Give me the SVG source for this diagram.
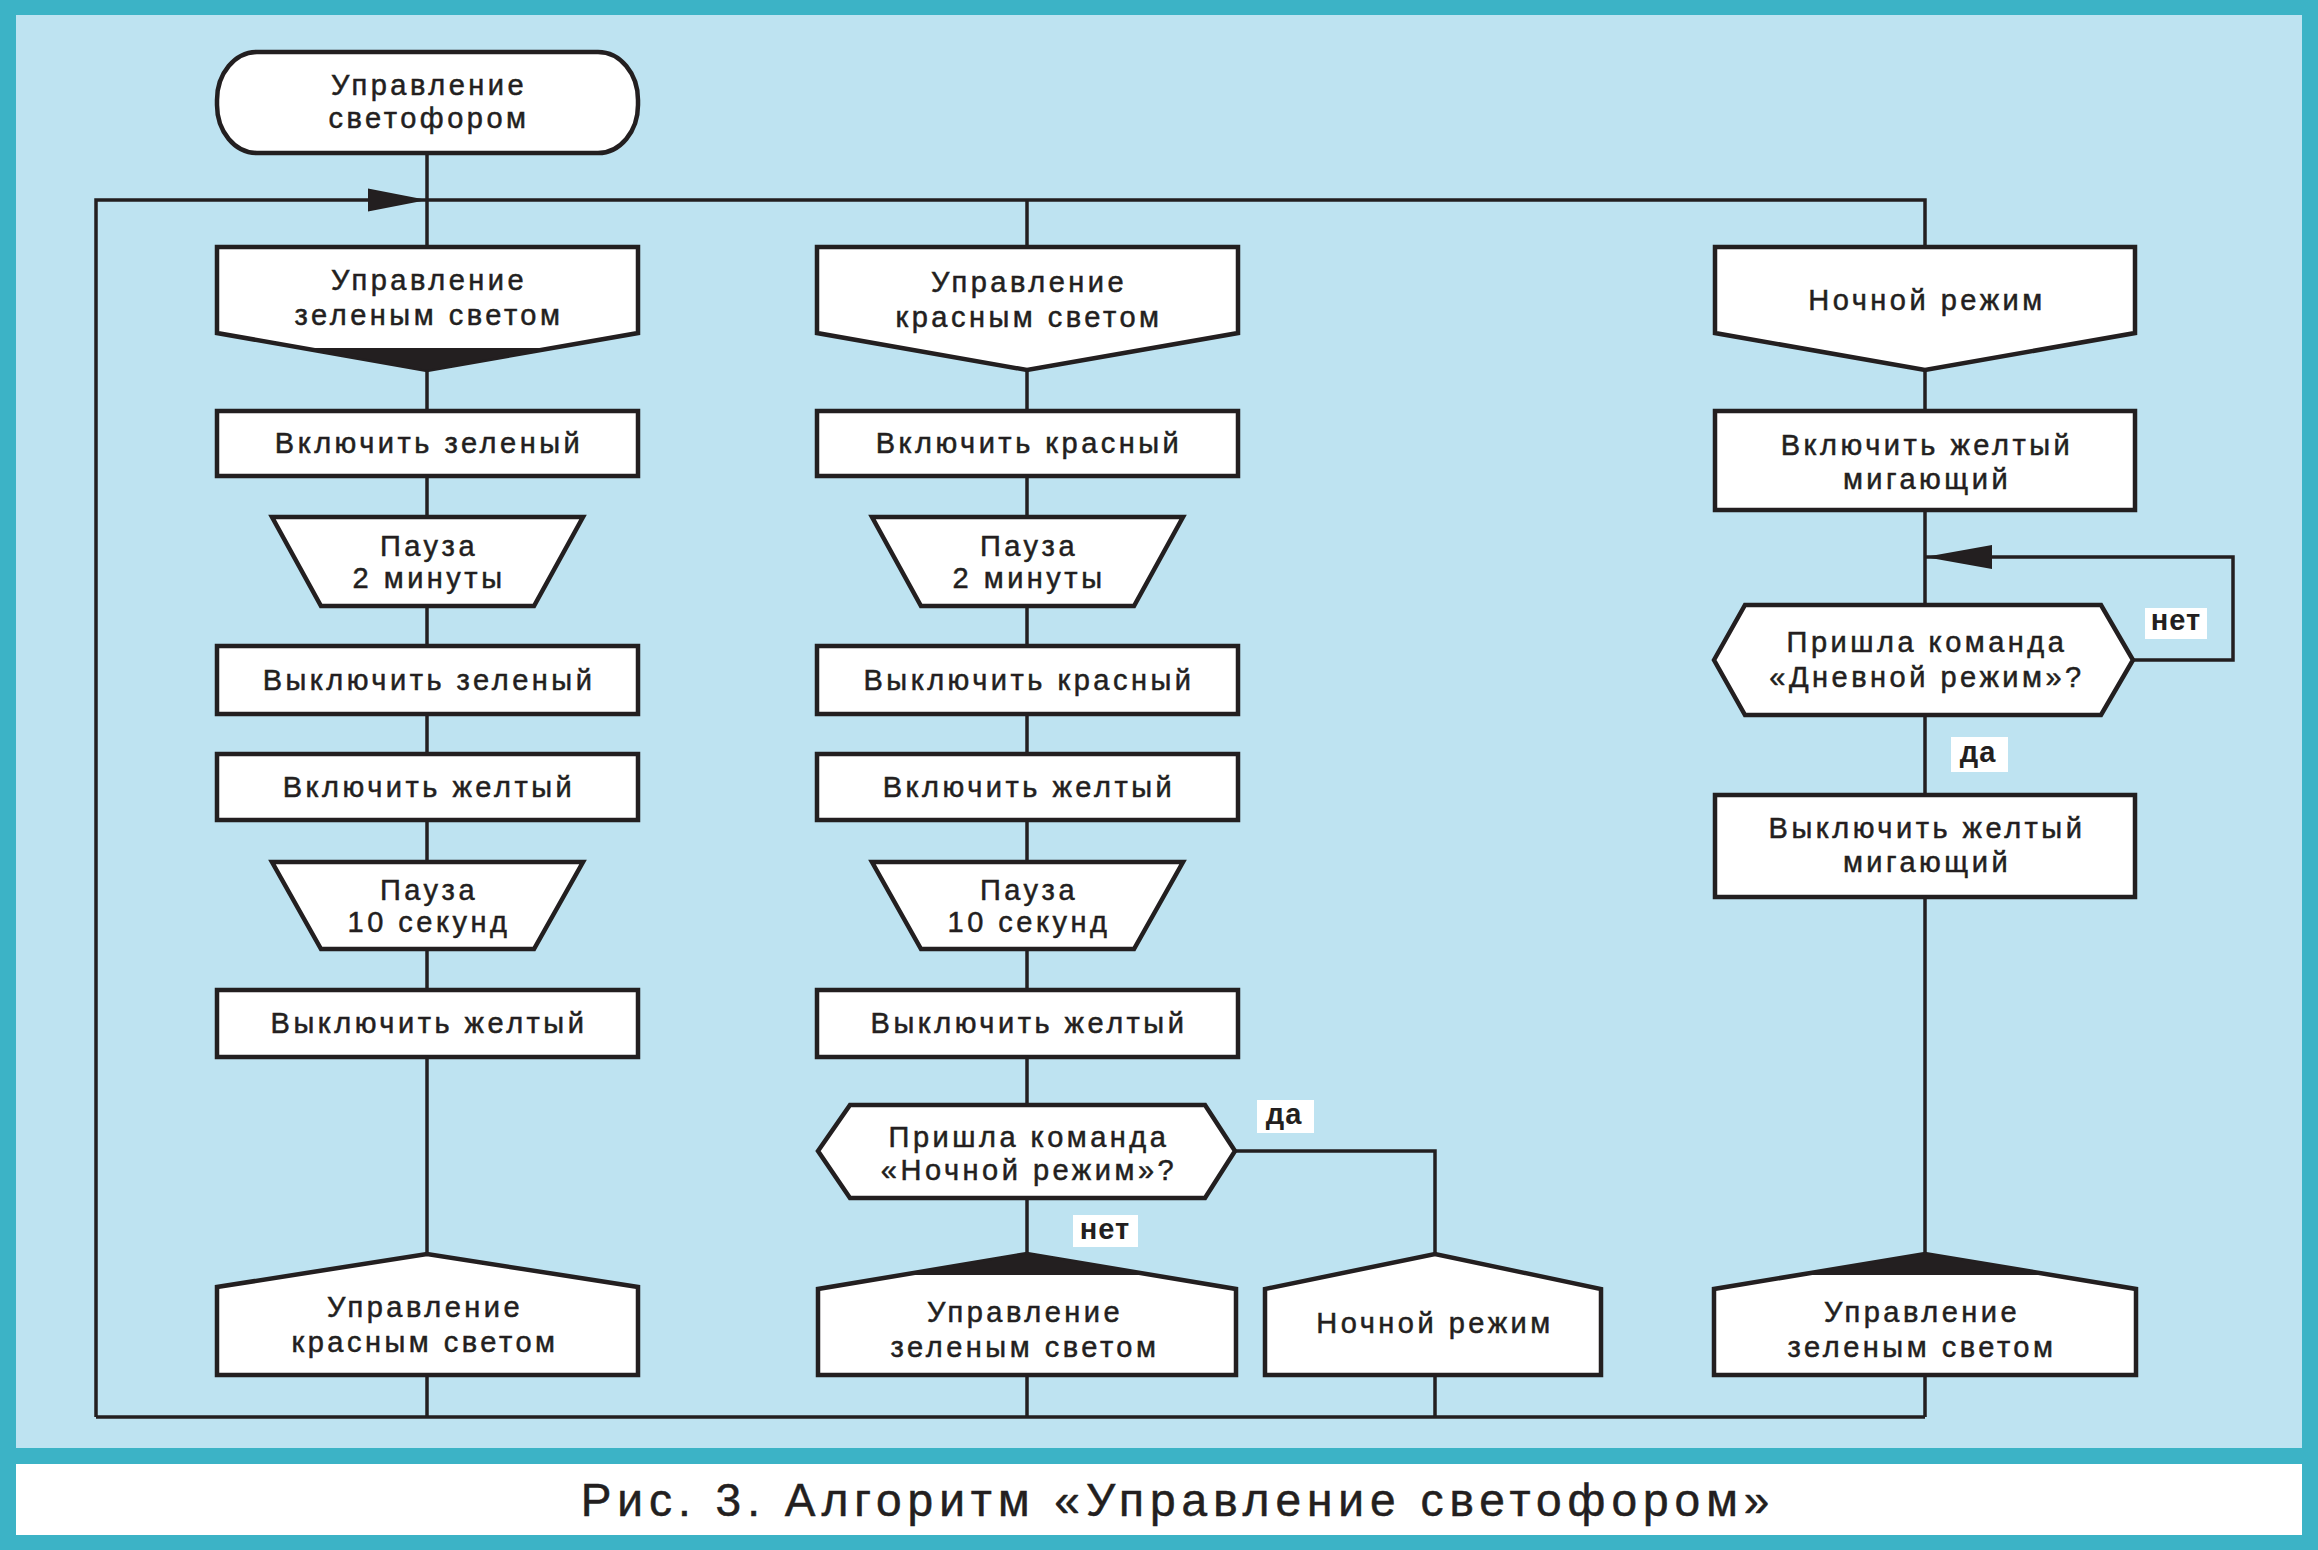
<svg xmlns="http://www.w3.org/2000/svg" width="2318" height="1550" viewBox="0 0 2318 1550">
<defs>
<style>
.box{fill:#fff;stroke:#231f20;stroke-width:4.5;stroke-linejoin:miter}
.t{font-family:"Liberation Sans",Arial,sans-serif;font-size:29px;letter-spacing:3.5px;fill:#231f20;stroke:#231f20;stroke-width:0.5;text-anchor:middle}
.c{fill:none;stroke:#231f20;stroke-width:3.5}
.blk{fill:#231f20}
.lb{fill:#fff}
.lt{font-family:"Liberation Sans",Arial,sans-serif;font-size:29px;font-weight:bold;letter-spacing:1px;fill:#231f20;text-anchor:middle}
.cap{font-family:"Liberation Sans",Arial,sans-serif;font-size:46px;letter-spacing:6px;fill:#231f20;stroke:#231f20;stroke-width:0.5;text-anchor:middle}
</style>
</defs>
<rect x="0" y="0" width="2318" height="1550" fill="#3cb3c6"/>
<rect x="16" y="15" width="2286" height="1433" fill="#bee3f1"/>
<rect x="16" y="1464" width="2286" height="71" fill="#fff"/>
<text class="cap" x="1178" y="1516">Рис. 3. Алгоритм «Управление светофором»</text>

<g id="connectors">
<path class="c" d="M96,1417 V200 H1925 V247"/>
<path class="c" d="M1027,200 V247"/>
<path class="c" d="M96,1417 H1925"/>
<path class="c" d="M427,153 V247 M427,370 V411 M427,476 V517 M427,606 V646 M427,714 V754 M427,820 V862 M427,949 V990 M427,1057 V1254 M427,1375 V1417"/>
<path class="c" d="M1027,370 V411 M1027,476 V517 M1027,606 V646 M1027,714 V754 M1027,820 V862 M1027,949 V990 M1027,1057 V1105 M1027,1198 V1254 M1027,1375 V1417"/>
<path class="c" d="M1235,1151 H1435 V1254 M1435,1375 V1417"/>
<path class="c" d="M1925,370 V411 M1925,510 V605 M1925,715 V795 M1925,897 V1254 M1925,1375 V1417"/>
<path class="c" d="M2133,660 H2233 V557 H1925"/>
<polygon class="blk" points="427,200 368,188.5 368,211.5"/>
<polygon class="blk" points="1925,557 1992,545 1992,569"/>
<g id="label-da-1"><rect class="lb" x="1257" y="1100" width="57" height="33"/><text class="lt" x="1284" y="1124">да</text></g>
<g id="label-net-1"><rect class="lb" x="1073" y="1215" width="65" height="32"/><text class="lt" x="1105" y="1239">нет</text></g>
<g id="label-net-2"><rect class="lb" x="2145" y="608" width="62" height="31"/><text class="lt" x="2176" y="630">нет</text></g>
<g id="label-da-2"><rect class="lb" x="1951" y="737" width="57" height="35"/><text class="lt" x="1978" y="762">да</text></g>
</g>

<g id="start">
<rect class="box" x="217" y="52" width="421" height="101" rx="40" ry="48"/>
<text class="t" x="429" y="95">Управление</text>
<text class="t" x="429" y="128">светофором</text>
</g>

<g id="c1-green-ctl">
<polygon class="box" points="217,247 638,247 638,333 427,370 217,333"/>
<polygon class="blk" points="306,348 548,348 427,370"/>
<text class="t" x="429" y="290">Управление</text>
<text class="t" x="429" y="325">зеленым светом</text>
</g>
<g id="c1-on-green"><rect class="box" x="217" y="411" width="421" height="65"/><text class="t" x="429" y="453">Включить зеленый</text></g>
<g id="c1-pause2"><polygon class="box" points="272,517 583,517 534,606 321,606"/><text class="t" x="429" y="556">Пауза</text><text class="t" x="429" y="588">2 минуты</text></g>
<g id="c1-off-green"><rect class="box" x="217" y="646" width="421" height="68"/><text class="t" x="429" y="690">Выключить зеленый</text></g>
<g id="c1-on-yellow"><rect class="box" x="217" y="754" width="421" height="66"/><text class="t" x="429" y="797">Включить желтый</text></g>
<g id="c1-pause10"><polygon class="box" points="272,862 583,862 534,949 321,949"/><text class="t" x="429" y="900">Пауза</text><text class="t" x="429" y="932">10 секунд</text></g>
<g id="c1-off-yellow"><rect class="box" x="217" y="990" width="421" height="67"/><text class="t" x="429" y="1033">Выключить желтый</text></g>
<g id="c1-to-red">
<polygon class="box" points="217,1375 217,1287 427,1254 638,1287 638,1375"/>
<text class="t" x="425" y="1317">Управление</text>
<text class="t" x="425" y="1352">красным светом</text>
</g>

<g id="c2-red-ctl">
<polygon class="box" points="817,247 1238,247 1238,333 1027,370 817,333"/>
<text class="t" x="1029" y="292">Управление</text>
<text class="t" x="1029" y="327">красным светом</text>
</g>
<g id="c2-on-red"><rect class="box" x="817" y="411" width="421" height="65"/><text class="t" x="1029" y="453">Включить красный</text></g>
<g id="c2-pause2"><polygon class="box" points="872,517 1183,517 1134,606 921,606"/><text class="t" x="1029" y="556">Пауза</text><text class="t" x="1029" y="588">2 минуты</text></g>
<g id="c2-off-red"><rect class="box" x="817" y="646" width="421" height="68"/><text class="t" x="1029" y="690">Выключить красный</text></g>
<g id="c2-on-yellow"><rect class="box" x="817" y="754" width="421" height="66"/><text class="t" x="1029" y="797">Включить желтый</text></g>
<g id="c2-pause10"><polygon class="box" points="872,862 1183,862 1134,949 921,949"/><text class="t" x="1029" y="900">Пауза</text><text class="t" x="1029" y="932">10 секунд</text></g>
<g id="c2-off-yellow"><rect class="box" x="817" y="990" width="421" height="67"/><text class="t" x="1029" y="1033">Выключить желтый</text></g>
<g id="c2-decision">
<polygon class="box" points="818,1151 850,1105 1205,1105 1235,1151 1205,1198 850,1198"/>
<text class="t" x="1029" y="1147">Пришла команда</text>
<text class="t" x="1029" y="1180">«Ночной режим»?</text>
</g>
<g id="c2-to-green">
<polygon class="box" points="818,1375 818,1289 1027,1254 1236,1289 1236,1375"/>
<polygon class="blk" points="904,1275 1150,1275 1027,1254"/>
<text class="t" x="1025" y="1322">Управление</text>
<text class="t" x="1025" y="1357">зеленым светом</text>
</g>
<g id="c2-to-night">
<polygon class="box" points="1265,1375 1265,1289 1435,1254 1601,1289 1601,1375"/>
<text class="t" x="1435" y="1333">Ночной режим</text>
</g>

<g id="c3-night">
<polygon class="box" points="1715,247 2135,247 2135,333 1925,370 1715,333"/>
<text class="t" x="1927" y="310">Ночной режим</text>
</g>
<g id="c3-on-blink"><rect class="box" x="1715" y="411" width="420" height="99"/><text class="t" x="1927" y="455">Включить желтый</text><text class="t" x="1927" y="489">мигающий</text></g>
<g id="c3-decision">
<polygon class="box" points="1714,660 1745,605 2101,605 2133,660 2101,715 1745,715"/>
<text class="t" x="1927" y="652">Пришла команда</text>
<text class="t" x="1927" y="687">«Дневной режим»?</text>
</g>
<g id="c3-off-blink"><rect class="box" x="1715" y="795" width="420" height="102"/><text class="t" x="1927" y="838">Выключить желтый</text><text class="t" x="1927" y="872">мигающий</text></g>
<g id="c3-to-green">
<polygon class="box" points="1714,1375 1714,1289 1925,1254 2136,1289 2136,1375"/>
<polygon class="blk" points="1802,1275 2048,1275 1925,1254"/>
<text class="t" x="1922" y="1322">Управление</text>
<text class="t" x="1922" y="1357">зеленым светом</text>
</g>
</svg>
